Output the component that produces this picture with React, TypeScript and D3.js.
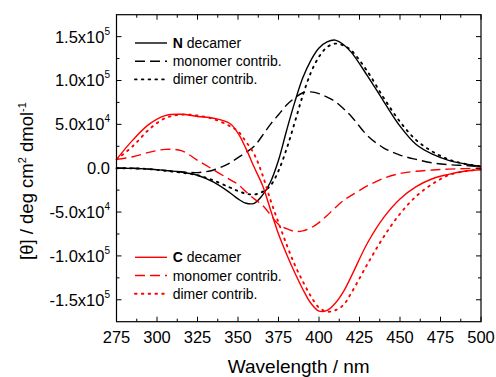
import React, { useRef, useEffect } from "react";
import { select, scaleLinear, line, curveCatmullRom, range } from "d3";

// wavelength grid (nm)
const wavelengths = [275, 285, 295, 305, 315, 325, 335, 345, 350, 355, 360, 365, 370, 375, 380, 385, 390, 395, 400, 405, 410, 415, 420, 430, 440, 450, 460, 470, 480, 490, 500];

// ellipticity values, in units of 1e4 deg cm2 dmol-1
const nDecamer = [0, -0.02, -0.1, -0.25, -0.45, -0.8, -1.6, -2.8, -3.5, -4.0, -4.0, -3.1, -1.6, 0.9, 4.3, 7.5, 10.3, 12.3, 13.7, 14.4, 14.6, 14.1, 13.2, 10.5, 7.6, 4.8, 2.7, 1.6, 0.9, 0.5, 0.2];
const nMonomer = [0, 0, -0.1, -0.25, -0.4, -0.5, -0.2, 0.6, 1.2, 1.8, 2.5, 3.7, 5.0, 6.1, 7.2, 8.0, 8.6, 8.7, 8.5, 8.1, 7.6, 6.8, 5.9, 3.7, 2.3, 1.5, 1.0, 0.6, 0.4, 0.3, 0.2];
const nDimer = [0, -0.02, -0.1, -0.3, -0.5, -0.8, -1.4, -2.2, -2.6, -2.9, -3.0, -2.7, -2.0, -0.3, 2.2, 5.2, 8.3, 10.9, 12.7, 13.8, 14.2, 14.0, 13.4, 11.0, 8.0, 5.3, 3.2, 1.9, 1.0, 0.5, 0.2];
const cDecamer = [1.0, 3.2, 5.0, 6.0, 6.15, 5.9, 5.7, 5.1, 4.0, 2.2, 0.1, -1.9, -4.7, -7.5, -9.8, -11.9, -13.8, -15.4, -16.3, -16.2, -15.4, -14.1, -12.3, -8.5, -5.6, -3.5, -2.1, -1.2, -0.7, -0.35, -0.15];
const cMonomer = [1.0, 1.3, 1.8, 2.15, 2.0, 0.9, -0.2, -1.3, -1.85, -2.7, -3.5, -4.2, -5.3, -6.4, -6.9, -7.2, -7.15, -6.8, -6.2, -5.4, -4.5, -3.7, -3.1, -2.0, -1.15, -0.6, -0.35, -0.2, -0.1, -0.05, 0];
const cDimer = [1.0, 2.5, 4.4, 5.7, 6.1, 6.0, 5.6, 4.8, 4.2, 3.0, 1.6, -0.7, -3.6, -6.2, -8.7, -11.0, -12.9, -14.6, -15.9, -16.35, -16.2, -15.6, -14.2, -10.9, -7.8, -5.2, -3.2, -1.8, -0.8, -0.35, -0.15];

const xTicks = [275, 300, 325, 350, 375, 400, 425, 450, 475, 500];
const yTicks = [150000, 100000, 50000, 0, -50000, -100000, -150000];
const yTickMant = ["1.5x10", "1.0x10", "5.0x10", "0.0", "-5.0x10", "-1.0x10", "-1.5x10"];
const yTickExp = ["5", "5", "4", "", "4", "5", "5"];

const DASH = "10,5";
const DOT = "1.6,5.2";

const seriesN = [
    { name: "decamer", values: nDecamer, dash: null },
    { name: "monomer contrib.", values: nMonomer, dash: DASH },
    { name: "dimer contrib.", values: nDimer, dash: DOT },
];
const seriesC = [
    { name: "decamer", values: cDecamer, dash: null },
    { name: "monomer contrib.", values: cMonomer, dash: DASH },
    { name: "dimer contrib.", values: cDimer, dash: DOT },
];

const width = 496;
const height = 377;
const plot = { left: 116.5, right: 481, top: 14.7, bottom: 321.7 };
const font = "'Liberation Sans', Arial, sans-serif";

// same look for curve and legend sample
const styleStroke = (sel, dash, color) => {
    sel.attr("fill", "none").attr("stroke", color)
        .attr("stroke-width", dash === DOT ? 1.9 : 1.4);
    if (dash) sel.attr("stroke-dasharray", dash);
    if (dash === DOT) sel.attr("stroke-linecap", "round");
};

const App = () => {
    const svgRef = useRef(null);

    useEffect(() => {
        const svg = select(svgRef.current);
        svg.selectAll("*").remove();

        const xScale = scaleLinear().domain([275, 500]).range([plot.left, plot.right]);
        const yScale = scaleLinear().domain([-175000, 175000]).range([plot.bottom, plot.top]);

        const myLine = line()
            .x((d, i) => xScale(wavelengths[i]))
            .y(d => yScale(d * 10000))
            .curve(curveCatmullRom.alpha(0.5));

        const drawSeries = (list, color) => {
            list.forEach(s => {
                styleStroke(svg.append("path").attr("d", myLine(s.values)), s.dash, color);
            });
        };
        drawSeries(seriesN, "#000");
        drawSeries(seriesC, "#ff0000");

        // frame
        svg.append("rect")
            .attr("x", plot.left).attr("y", plot.top)
            .attr("width", plot.right - plot.left).attr("height", plot.bottom - plot.top)
            .attr("fill", "none").attr("stroke", "#000").attr("stroke-width", 1.2);

        // ticks, all pointing inward, minor ones in between
        range(275, 500.1, 12.5).forEach(v => {
            const len = (v - 275) % 25 === 0 ? 5 : 3;
            const x = xScale(v);
            svg.append("line").attr("x1", x).attr("x2", x).attr("y1", plot.bottom).attr("y2", plot.bottom - len).attr("stroke", "#000");
            svg.append("line").attr("x1", x).attr("x2", x).attr("y1", plot.top).attr("y2", plot.top + len).attr("stroke", "#000");
        });
        range(-150000, 150001, 25000).forEach(v => {
            const len = v % 50000 === 0 ? 5 : 3;
            const y = yScale(v);
            svg.append("line").attr("x1", plot.left).attr("x2", plot.left + len).attr("y1", y).attr("y2", y).attr("stroke", "#000");
            svg.append("line").attr("x1", plot.right).attr("x2", plot.right - len).attr("y1", y).attr("y2", y).attr("stroke", "#000");
        });

        // tick labels
        xTicks.forEach(v => {
            svg.append("text").attr("x", xScale(v)).attr("y", 342.7)
                .attr("text-anchor", "middle").attr("font-family", font).attr("font-size", 16.5)
                .text(v);
        });
        yTicks.forEach((v, i) => {
            const t = svg.append("text").attr("x", 110).attr("y", yScale(v) + 6)
                .attr("text-anchor", "end").attr("font-family", font).attr("font-size", 16.5);
            t.append("tspan").text(yTickMant[i]);
            if (yTickExp[i]) t.append("tspan").attr("dy", -8).attr("font-size", 10).text(yTickExp[i]);
        });

        // axis titles
        svg.append("text").attr("x", (plot.left + plot.right) / 2).attr("y", 372.7)
            .attr("text-anchor", "middle").attr("font-family", font).attr("font-size", 19)
            .text("Wavelength / nm");
        const yt = svg.append("text")
            .attr("transform", "translate(33,181) rotate(-90)")
            .attr("text-anchor", "middle").attr("font-family", font).attr("font-size", 18.5);
        yt.append("tspan").text("[\u03b8] / deg cm");
        yt.append("tspan").attr("dy", -7).attr("font-size", 11).text("2");
        yt.append("tspan").attr("dy", 7).text(" dmol");
        yt.append("tspan").attr("dy", -7).attr("font-size", 11).text("-1");

        // legends
        const drawLegend = (list, color, label, y0) => {
            list.forEach((s, i) => {
                const y = y0 + i * 18.2;
                styleStroke(svg.append("line").attr("x1", 135).attr("x2", 167).attr("y1", y).attr("y2", y), s.dash, color);
                const t = svg.append("text").attr("x", 172.7).attr("y", y + 5)
                    .attr("font-family", font).attr("font-size", 14);
                if (i === 0) {
                    t.append("tspan").attr("font-weight", "bold").text(label);
                    t.append("tspan").text(" " + s.name);
                } else {
                    t.text(s.name);
                }
            });
        };
        drawLegend(seriesN, "#000", "N", 43);
        drawLegend(seriesC, "#ff0000", "C", 257.3);
    }, []);

    return (
        <svg ref={svgRef} width={width} height={height}
            style={{ position: "absolute", left: 0, top: 0, background: "#fff" }} />
    );
};

export default App;
